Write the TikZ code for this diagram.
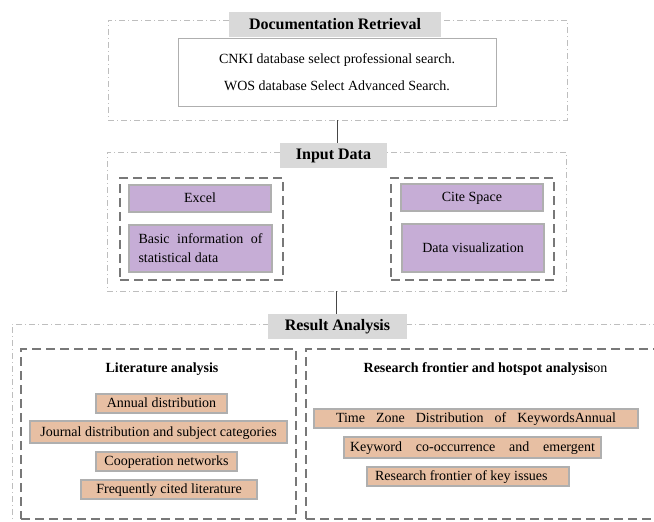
\documentclass[tikz,border=0pt]{standalone}
\usepackage{fontspec}
\setmainfont{Liberation Serif}
\definecolor{titlegray}{RGB}{217,217,217}
\definecolor{lilac}{RGB}{198,173,214}
\definecolor{salmon}{RGB}{231,191,163}
\definecolor{edgegray}{RGB}{175,175,175}
\definecolor{dotgray}{RGB}{190,190,190}
\definecolor{dashgray}{RGB}{120,120,120}
\definecolor{linkgray}{RGB}{70,70,70}
\tikzset{
  outerbox/.style={draw=dotgray, line width=0.9pt, dash pattern=on 6pt off 3pt on 1pt off 3pt, rectangle, inner sep=0pt},
  innerbox/.style={draw=dashgray, line width=1.4pt, dash pattern=on 9pt off 5pt, rectangle, inner sep=0pt},
  titlebox/.style={fill=titlegray, rectangle, inner sep=0pt, font=\fontsize{16}{18}\selectfont\bfseries},
  whitebox/.style={draw=edgegray, fill=white, line width=1pt, rectangle, inner sep=0pt, align=center, font=\fontsize{14}{27}\selectfont},
  purplebox/.style={draw=edgegray, fill=lilac, line width=1.2pt, rectangle, inner sep=0pt, font=\fontsize{14}{19}\selectfont},
  peachbox/.style={draw=edgegray, fill=salmon, line width=1.2pt, rectangle, inner sep=0pt, text height=10pt, text depth=2pt, font=\fontsize{14}{17}\selectfont},
  subhead/.style={inner sep=0pt, font=\fontsize{14}{17}\selectfont},
  link/.style={draw=linkgray, line width=1.8pt}
}
\begin{document}
\begin{tikzpicture}[x=1pt,y=-1pt]
\useasboundingbox (0,0) rectangle (654,522);
\clip (0,0) rectangle (654,522);
% ---- Documentation Retrieval
\node[outerbox, minimum width=459pt, minimum height=100pt] (outer1) at (337.5,70) {};
\node[titlebox, minimum width=212pt, minimum height=25pt] (title1) at (335,24.5) {Documentation Retrieval};
\node[whitebox, minimum width=318pt, minimum height=68pt] (search) at (337,72)
  {CNKI database select professional search.\\WOS database Select Advanced Search.};
% ---- Input Data
\node[outerbox, minimum width=459pt, minimum height=139pt] (outer2) at (336.5,221.5) {};
\draw[link] (outer1.south) -- (outer1.south |- 0,143) coordinate (c1);
\node[titlebox, minimum width=107pt, minimum height=25pt] (title2) at (333.5,155.5) {Input Data};
\node[innerbox, minimum width=163pt, minimum height=102pt] (leftin) at (201.5,229) {};
\node[purplebox, minimum width=142pt, minimum height=27pt, text height=10pt, text depth=2pt] (excel) at (200,198.5) {Excel};
\node[purplebox, minimum width=143pt, minimum height=47pt] (basic) at (200.5,248.5)
  {\parbox{124pt}{Basic information of statistical data}};
\node[innerbox, minimum width=163pt, minimum height=102pt] (rightin) at (472.5,229) {};
\node[purplebox, minimum width=142pt, minimum height=27pt, text height=10pt, text depth=2pt] (cite) at (472,197.5) {Cite Space};
\node[purplebox, minimum width=142pt, minimum height=48pt, text height=10pt, text depth=2pt] (dataviz) at (473,248) {Data visualization};
% ---- Result Analysis
\node[outerbox, minimum width=670pt, minimum height=230pt] (outer3) at (347,439) {};
\draw[link] (outer2.south) -- (outer2.south |- 0,314) coordinate (c2);
\node[titlebox, minimum width=139pt, minimum height=25pt] (title3) at (337.5,326.5) {Result Analysis};
\node[innerbox, minimum width=275pt, minimum height=170pt] (leftres) at (158.5,434) {};
\node[subhead, font=\fontsize{14}{17}\selectfont\bfseries] (lithead) at (162,369) {Literature analysis};
\node[peachbox, minimum width=131pt, minimum height=19pt] (annual) at (161.5,403.5) {Annual distribution};
\node[peachbox, minimum width=257pt, minimum height=22pt] (journal) at (158.5,432) {Journal distribution and subject categories};
\node[peachbox, minimum width=141pt, minimum height=19pt] (coop) at (166.5,461.5) {Cooperation networks};
\node[peachbox, minimum width=176pt, minimum height=19pt] (freq) at (169,489.5) {Frequently cited literature};
\node[innerbox, minimum width=380pt, minimum height=170pt] (rightres) at (496,434) {};
\node[subhead] (rfhead) at (485.5,369) {\textbf{Research frontier and hotspot analysis}on};
\node[peachbox, minimum width=324pt, minimum height=19pt] (timezone) at (476,418.5)
  {\makebox[280pt][s]{Time Zone Distribution of KeywordsAnnual}};
\node[peachbox, minimum width=257pt, minimum height=21pt] (keyword) at (472.5,447.5)
  {\makebox[245pt][s]{Keyword co-occurrence and emergent}};
\node[peachbox, minimum width=202pt, minimum height=19pt] (issues) at (468,476.5)
  {\makebox[186pt][l]{Research frontier of key issues}};
\end{tikzpicture}
\end{document}
